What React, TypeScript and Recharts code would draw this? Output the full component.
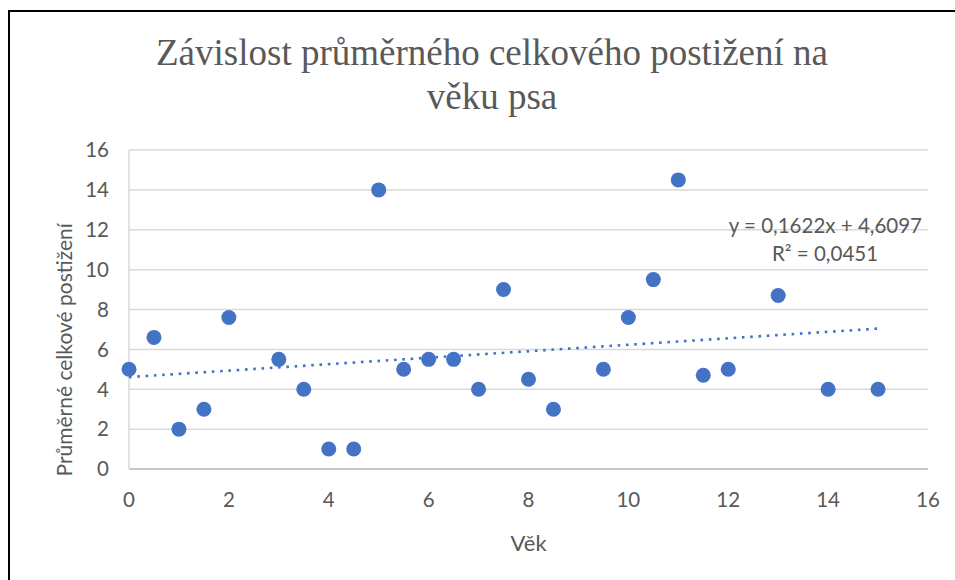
import { CartesianGrid, Scatter, ScatterChart, XAxis, YAxis } from 'recharts';

const ages = [0, 0.5, 1, 1.5, 2, 3, 3.5, 4, 4.5, 5, 5.5, 6, 6.5, 7, 7.5, 8, 8.5, 9.5, 10, 10.5, 11, 11.5, 12, 13, 14, 15];
const scores = [5, 6.6, 2, 3, 7.6, 5.5, 4, 1, 1, 14, 5, 5.5, 5.5, 4, 9, 4.5, 3, 5, 7.6, 9.5, 14.5, 4.7, 5, 8.7, 4, 4];
const ticks = [0, 2, 4, 6, 8, 10, 12, 14, 16];
const trendRange = [0, 15];
const slope = 0.1622;
const intercept = 4.6097;

const points = ages.map((age, i) => ({ x: age, y: scores[i] }));
const trend = trendRange.map((x) => ({ x, y: slope * x + intercept }));

const font = 'Lato, "Open Sans", sans-serif';
const grey = '#595959';

export default function App() {
  return (
    <div style={{ position: 'fixed', left: 0, top: 0, width: 955, height: 580, background: '#fff', overflow: 'hidden' }}>
      <div style={{ position: 'absolute', left: 8, top: 10, width: 1000, height: 700, border: '2px solid #000' }} />
      <div
        style={{
          position: 'absolute',
          left: 0,
          top: 31,
          width: 984,
          textAlign: 'center',
          fontFamily: '"Liberation Serif", serif',
          fontSize: 37,
          lineHeight: '44px',
          color: grey
        }}
      >
        Závislost průměrného celkového postižení na
        <br />
        věku psa
      </div>
      <ScatterChart width={955} height={580} margin={{ top: 150, right: 27, left: 69, bottom: 81 }} style={{ position: 'absolute', left: 0, top: 0 }}>
        <CartesianGrid stroke="#d9d9d9" strokeWidth={1.5} vertical={false} />
        <XAxis
          type="number"
          dataKey="x"
          domain={[0, 16]}
          ticks={ticks}
          height={30}
          axisLine={{ stroke: '#bfbfbf', strokeWidth: 1.5 }}
          tickLine={false}
          tick={{ fill: grey, fontSize: 20.5, fontFamily: font }}
          tickMargin={17}
          label={{ value: 'Věk', position: 'insideBottom', offset: -52, fill: grey, fontSize: 22, fontFamily: font }}
        />
        <YAxis
          type="number"
          dataKey="y"
          domain={[0, 16]}
          ticks={ticks}
          width={60}
          axisLine={{ stroke: '#d9d9d9', strokeWidth: 1.5 }}
          tickLine={false}
          tick={{ fill: grey, fontSize: 20.5, fontFamily: font }}
          tickMargin={14}
          label={{
            value: 'Průměrné celkové postižení',
            angle: -90,
            position: 'insideLeft',
            dx: -9,
            dy: 167,
            fill: grey,
            fontSize: 21,
            fontFamily: font
          }}
        />
        <Scatter data={trend} line={{ stroke: '#4472c4', strokeWidth: 2.6, strokeDasharray: '2.6 5.7' }} shape={() => <g />} isAnimationActive={false} />
        <Scatter data={points} fill="#4472c4" shape={(p: any) => <circle cx={p.cx} cy={p.cy} r={7.5} fill="#4472c4" />} isAnimationActive={false} />
      </ScatterChart>
      <div style={{ position: 'absolute', left: 680, top: 213, width: 242, textAlign: 'right', fontFamily: font, fontSize: 20.5, color: grey }}>
        y = 0,1622x + 4,6097
      </div>
      <div style={{ position: 'absolute', left: 725, top: 241, width: 200, textAlign: 'center', fontFamily: font, fontSize: 20.5, color: grey }}>
        R² = 0,0451
      </div>
    </div>
  );
}
